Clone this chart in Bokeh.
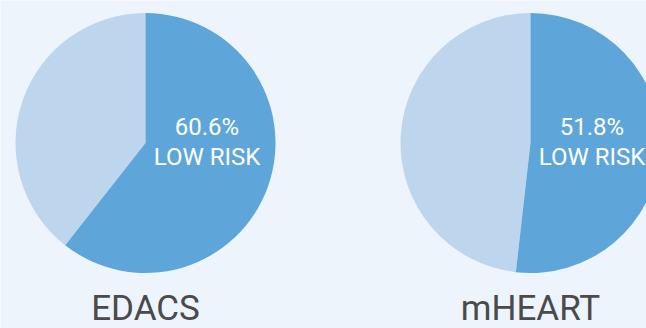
import math
from bokeh.plotting import figure
from bokeh.models import Range1d, ColumnDataSource
from bokeh.core.properties import value
from bokeh.embed import file_html
from bokeh.resources import INLINE

# Data
models = ["EDACS", "mHEART"]
low_risk_pct = [60.6, 51.8]
inner_line2 = ["LOW RISK", "LOW RISK"]

W, H = 646, 328
BG = "#EDF4FC"
DARK = "#5EA6DA"
LIGHT = "#BDD6EE"
TXT = "#4A4A4A"

p = figure(width=W, height=H, output_backend="svg", toolbar_location=None,
           x_range=Range1d(0, W), y_range=Range1d(0, H), min_border=0)
p.axis.visible = False
p.grid.visible = False
p.outline_line_color = None
p.background_fill_color = BG
p.border_fill_color = BG

cx = [145, 530]
cy = H - 142.5
R = 130

start = [math.pi / 2] * len(models)
split = [math.pi / 2 - 2 * math.pi * v / 100 for v in low_risk_pct]
full = [math.pi / 2 - 2 * math.pi] * len(models)

src = ColumnDataSource(dict(
    x=cx, y=[cy] * len(models), start=start, split=split, full=full,
    pct=[f"{v}%" for v in low_risk_pct], line2=inner_line2, name=models,
    tx=[c + 61.5 for c in cx], ty1=[cy + 16.5] * len(models),
    ty2=[cy - 13.5] * len(models), by=[H - 308] * len(models),
))

p.wedge(x="x", y="y", radius=R, start_angle="split", end_angle="full",
        direction="clock", fill_color=LIGHT, line_color=None, source=src)
p.wedge(x="x", y="y", radius=R, start_angle="start", end_angle="split",
        direction="clock", fill_color=DARK, line_color=None, source=src)

p.text(x="tx", y="ty1", text="pct", source=src, text_align="center",
       text_baseline="middle", text_color="white", text_font=value("Roboto"),
       text_font_size="24px")
p.text(x="tx", y="ty2", text="line2", source=src, text_align="center",
       text_baseline="middle", text_color="white", text_font=value("Roboto"),
       text_font_size="24px")
p.text(x="x", y="by", text="name", source=src, text_align="center",
       text_baseline="middle", text_color=TXT, text_font=value("Roboto"),
       text_font_size="35px")

open("out.html", "w").write(file_html(p, INLINE))
